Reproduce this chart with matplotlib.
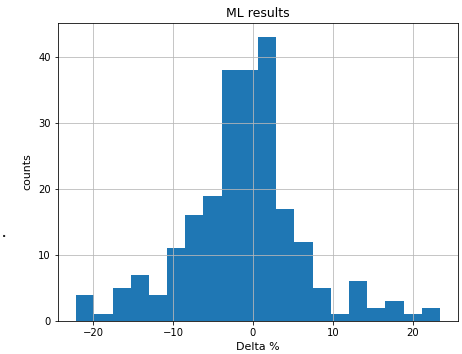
import numpy as np
import matplotlib
matplotlib.use('Agg')
import matplotlib.pyplot as plt

# histogram: 20 equal bins from -22.1 to 23.4
bin_lo = -22.1
bin_hi = 23.4
counts = [4, 1, 5, 7, 4, 11, 16, 19, 38, 38, 43, 17, 12, 5, 1, 6, 2, 3, 1, 2]
title = "ML results"
xlabel = "Delta %"
ylabel = "counts"

edges = np.linspace(bin_lo, bin_hi, len(counts) + 1)
centers = (edges[:-1] + edges[1:]) / 2

plt.rcParams.update({
    'font.family': 'DejaVu Sans',
    'xtick.labelsize': 10,
    'ytick.labelsize': 10,
})

fig = plt.figure(figsize=(462 / 72, 354 / 72), dpi=72)
ax = fig.add_axes([0.1255, 0.093, 0.866, 0.842])

ax.hist(centers, bins=edges, weights=counts, color='#1f77b4')
ax.grid(True, color='#b8b8b8', linewidth=0.8)
ax.set_title(title, fontsize=12.5)
ax.set_xlabel(xlabel, fontsize=11)
ax.set_ylabel(ylabel, fontsize=11, labelpad=6)
ax.set_yticks([0, 10, 20, 30, 40])

fig.text(0.004, 0.33, '.', fontsize=11, color='#222222', fontweight='bold')

fig.savefig('out.png', dpi=72)
